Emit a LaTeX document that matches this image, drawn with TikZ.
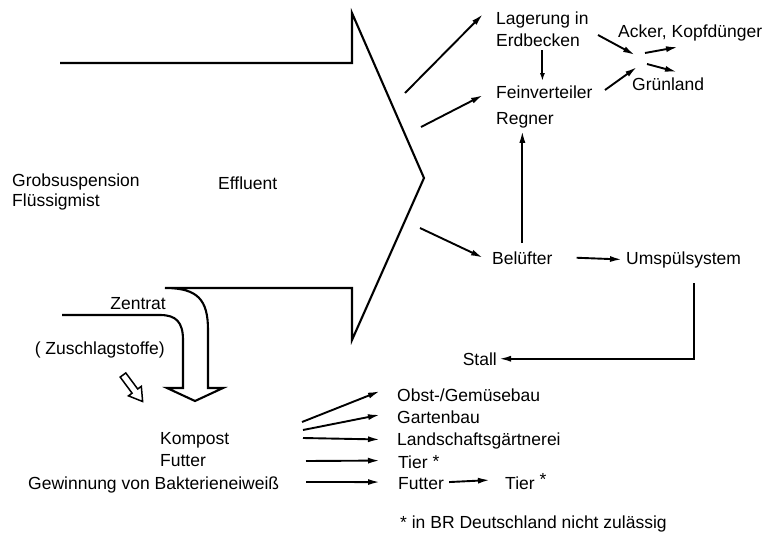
\documentclass[tikz,border=0pt]{standalone}
\usepackage{fontspec}
\setmainfont{Liberation Sans}
\usetikzlibrary{arrows.meta,positioning}

\begin{document}
\begin{tikzpicture}[
    x=1pt, y=-1pt,
    lbl/.style={anchor=base west, inner sep=0pt, align=left,
                font=\fontsize{17.5}{22}\selectfont},
    arr/.style={-{Latex[length=12pt,width=6pt]}, line width=1.9pt},
    outline/.style={line width=2.1pt, line join=miter}
]
\useasboundingbox (0,0) rectangle (774,536);
% Left: inputs
\node[lbl] (grob) at (12,206) {Grobsuspension\\[-2pt]Flüssigmist};
\node[lbl] (effl) at (218,189) {Effluent};
\node[lbl, anchor=base east] (zent) at (166,309) {Zentrat};
\node[lbl, anchor=base east] (zusch) at (165,354) {( Zuschlagstoffe)};
% Big split arrow
\draw[outline] (60,63) -- (352,63) -- (352,13) -- (424,178) -- (352,340)
  -- (352,288) -- (165,288) .. controls (198,288) and (208,300) .. (208,330)
  -- (208,388) -- (223,388) -- (195,401) -- (167,388) -- (183,388)
  -- (183,340) .. controls (183,322) and (176,315) .. (160,315) -- (62,315);
% Small hollow arrow
\begin{scope}[shift={(123,375)}, rotate=-53.5]
  \draw[line width=1.5pt, line join=miter] (0,-3.5) -- (20,-3.5) -- (20,-8)
    -- (33,0) -- (20,8) -- (20,3.5) -- (0,3.5) -- cycle;
\end{scope}
% Right: liquid route
\node[lbl] (lager) at (496,46) {Lagerung in\\Erdbecken};
\node[lbl] (fein) at (496,124) {Feinverteiler\\[4pt]Regner};
\node[lbl] (acker) at (618,37) {Acker, Kopfdünger};
\node[lbl] (gruen) at (632,90) {Grünland};
\node[lbl] (belu) at (492,264) {Belüfter};
\node[lbl] (umsp) at (626,264) {Umspülsystem};
\node[lbl, anchor=base east] (stall) at (497,365) {Stall};
\coordinate (tipa) at (405,93);
\coordinate (tipb) at (421,127);
\coordinate (tipc) at (420,228);
\coordinate (knot) at (641,60);
\coordinate (ret) at (694,283);
% Arrows
\draw[arr] (tipa) -- ([xshift=-13pt,yshift=-3pt]lager.north west);
\draw[arr] (tipb) -- ([xshift=-13pt,yshift=-10pt]fein.north west);
\draw[arr] (tipc) -- ([xshift=-9pt]belu.west);
\draw[arr, -{Latex[length=8pt,width=5pt]}] ([yshift=-4pt]lager.south)
  -- ([yshift=4pt]lager.south |- fein.north);
\draw[arr] ([yshift=8pt]belu.north) -- ([yshift=-3pt]belu.north |- fein.south);
\draw[arr] ([xshift=24pt]belu.east) -- ([xshift=-4pt]umsp.west);
\draw[arr] (598,35) -- ([xshift=-6pt,yshift=5pt]knot);
\draw[arr] (605,90) -- ([xshift=-4pt,yshift=-7pt]knot);
\draw[arr] ([xshift=4pt,yshift=7pt]knot) -- (678,47);
\draw[arr] ([xshift=6pt,yshift=-4pt]knot) -- (677,72);
\draw[arr] (ret) |- ([xshift=2pt]stall.east);
% Bottom: solid route
\node[lbl] (komp) at (160,444) {Kompost};
\node[lbl] (futt) at (160,466) {Futter};
\node[lbl] (gewi) at (28,489) {Gewinnung von Bakterieneiweiß};
\node[lbl] (obst) at (397,401) {Obst-/Gemüsebau};
\node[lbl] (gart) at (397,423) {Gartenbau};
\node[lbl] (land) at (397,445) {Landschaftsgärtnerei};
\node[lbl] (tier) at (398,468) {Tier \raisebox{1pt}{*}};
\node[lbl] (futz) at (398,489) {Futter};
\node[lbl] (tiez) at (505,489) {Tier \raisebox{4pt}{*}};
\node[lbl] (foot) at (400,528) {* in BR Deutschland nicht zulässig};
\coordinate (srca) at (302,422);
\coordinate (srcb) at (303,430);
\coordinate (srcc) at (303,438);
\coordinate (srcd) at (306,461);
\coordinate (srce) at (306,482);
\draw[arr] (srca) -- ([xshift=-17pt,yshift=-3pt]obst.north west);
\draw[arr] (srcb) -- ([xshift=-17pt,yshift=2pt]gart.west);
\draw[arr] (srcc) -- ([xshift=-17pt,yshift=1pt]land.west);
\draw[arr] (srcd) -- ([xshift=-18pt,yshift=1pt]tier.west);
\draw[arr] (srce) -- ([xshift=-18pt,yshift=1pt]futz.west);
\draw[arr] ([xshift=5pt,yshift=1pt]futz.east) -- ([xshift=-15pt,yshift=1pt]tiez.west);
\end{tikzpicture}
\end{document}
